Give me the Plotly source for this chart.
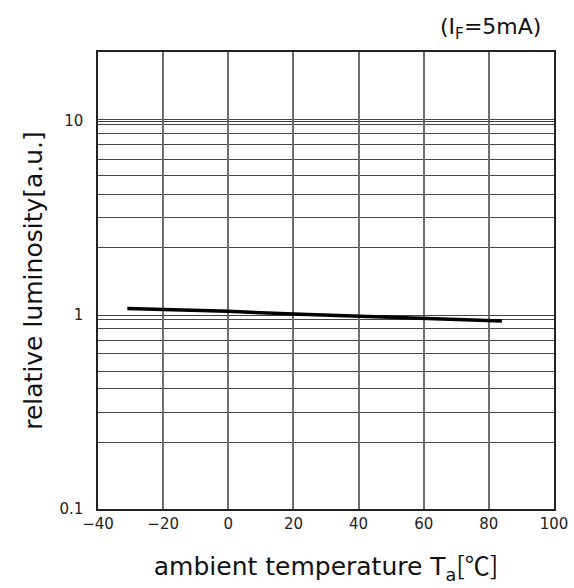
import plotly.graph_objects as go
import math

# data
temperature = [-31, -20, 0, 20, 40, 60, 84]
luminosity = [1.08, 1.07, 1.045, 1.012, 0.988, 0.968, 0.931]

# horizontal grid values and labelled ticks
y_grid = [0.221, 0.316, 0.416, 0.514, 0.63, 0.743, 0.857, 0.954,
          2.24, 3.2, 4.2, 5.26, 6.36, 7.53, 8.67, 9.65, 10.24]
y_tickvals = [0.1, 1, 10]
y_ticktext = ["0.1", "1", "10"]
x_ticks = [-40, -20, 0, 20, 40, 60, 80, 100]

font = "DejaVu Sans, Noto Sans CJK KR, sans-serif"
cjk = "Noto Sans CJK KR"

fig = go.Figure()
fig.add_trace(go.Scatter(
    x=temperature, y=luminosity, mode="lines",
    line=dict(color="black", width=3.5), showlegend=False,
    hoverinfo="skip"))

fig.update_layout(
    width=574, height=588,
    margin=dict(l=98, r=20, t=52, b=79),
    paper_bgcolor="white", plot_bgcolor="white",
    font=dict(family=font, color="#111"),
    xaxis=dict(
        range=[-40, 100], tickmode="array", tickvals=x_ticks,
        showgrid=True, gridcolor="#6e6e6e", gridwidth=1.5,
        showline=True, linecolor="#222", linewidth=1.5, mirror=True,
        ticks="", ticklabelstandoff=0, automargin=False,
        tickfont=dict(size=15, color="#222"),
        zeroline=False,
        title=dict(text="ambient temperature T<sub>a</sub>"
                        f"<span style=\"font-family:'{cjk}'\">[℃]</span>",
                   font=dict(size=25, color="#111"), standoff=26),
    ),
    yaxis=dict(
        type="log", range=[-1, math.log10(22.7)],
        tickmode="array", tickvals=y_tickvals, ticktext=y_ticktext,
        minor=dict(tickmode="array", tickvals=y_grid, showgrid=True,
                   gridcolor="#444", gridwidth=1, ticks=""),
        showgrid=True, gridcolor="#444", gridwidth=1,
        showline=True, linecolor="#222", linewidth=1.5, mirror=True,
        ticks="", ticklabelstandoff=10, automargin=False,
        tickfont=dict(size=15, color="#222"),
        zeroline=False,
        title=dict(text="relative luminosity[a.u.]",
                   font=dict(size=25, color="#111"), standoff=10),
    ),
    annotations=[dict(
        text="(I<sub>F</sub>=5mA)", xref="paper", yref="paper",
        x=1.0, y=1.0, xanchor="right", yanchor="bottom", yshift=7, xshift=-11,
        showarrow=False, font=dict(size=22, color="#111"))],
)

# remove the browser's default 8px body margin so the figure fills the window
fig.write_html("out.html", config={"displayModeBar": False},
               post_script="document.body.style.margin='0';")
